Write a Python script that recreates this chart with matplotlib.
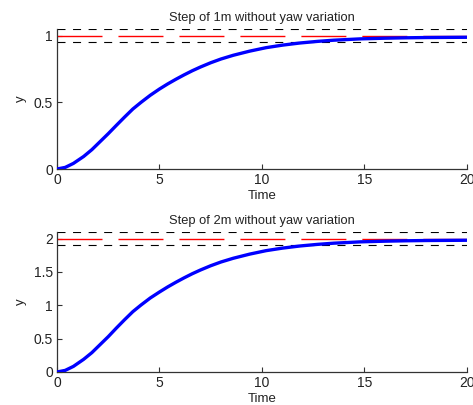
import numpy as np
import matplotlib.pyplot as plt

plt.rcParams['font.family'] = ['Liberation Sans', 'DejaVu Sans']

# step response
t = [0, 0.4, 0.8, 1.3, 1.7, 2.1, 2.5, 2.9, 3.3, 3.7, 4.1, 4.55, 5.0, 5.4, 5.8,
     6.2, 6.6, 7.0, 7.5, 8.0, 8.6, 9.4, 10.2, 11.0, 11.85, 12.7, 13.5, 14.8,
     16.0, 17.0, 18.0, 19.0, 20.0]
y1 = [0, 0.012, 0.042, 0.094, 0.145, 0.205, 0.265, 0.328, 0.39, 0.45, 0.5,
      0.553, 0.6, 0.638, 0.673, 0.706, 0.737, 0.765, 0.797, 0.825, 0.853, 0.884,
      0.91, 0.929, 0.945, 0.957, 0.966, 0.976, 0.981, 0.984, 0.986, 0.987, 0.988]
y2 = [0, 0.024, 0.084, 0.19, 0.29, 0.41, 0.53, 0.66, 0.785, 0.905, 1.005, 1.11,
      1.2, 1.276, 1.346, 1.412, 1.474, 1.53, 1.594, 1.65, 1.706, 1.768, 1.82,
      1.858, 1.89, 1.914, 1.932, 1.952, 1.962, 1.968, 1.972, 1.974, 1.976]

steps = [1, 2]
titles = ['Step of 1m without yaw variation', 'Step of 2m without yaw variation']
yticks = [[0, 0.5, 1], [0, 0.5, 1, 1.5, 2]]
series = [y1, y2]

fig = plt.figure(figsize=(4.73, 4.05), dpi=100)
positions = [[0.1205, 0.5827, 0.8668, 0.3457], [0.1205, 0.0815, 0.8668, 0.3457]]

for pos, ref, title, yt, y in zip(positions, steps, titles, yticks, series):
    ax = fig.add_axes(pos)
    ax.plot(t, y, color='#0000ff', lw=2.4, solid_capstyle='butt', zorder=3)
    ax.plot([0, 20], [ref, ref], color='red', lw=1, dashes=(32.4, 11.5), zorder=2)
    ax.plot([0, 20], [1.05 * ref, 1.05 * ref], color='black', lw=0.8,
            dashes=(7.2, 6.8), zorder=2)
    ax.plot([0, 20], [0.95 * ref, 0.95 * ref], color='black', lw=0.8,
            dashes=(7.2, 6.8), zorder=2)
    ax.set_xlim(0, 20)
    ax.set_ylim(0, 1.05 * ref)
    ax.set_xticks([0, 5, 10, 15, 20])
    ax.set_yticks(yt)
    ax.set_yticklabels([f'{v:g}' for v in yt])
    for s in ['top', 'right']:
        ax.spines[s].set_visible(False)
    for s in ['left', 'bottom']:
        ax.spines[s].set_color('#333333')
        ax.spines[s].set_linewidth(0.9)
    ax.tick_params(direction='in', length=3.6, width=0.8, color='#333333',
                   labelsize=10, pad=3, labelcolor='#222222')
    ax.set_title(title, fontsize=9.25, pad=6, color='#222222')
    ax.set_xlabel('Time', fontsize=9.5, labelpad=2, color='#222222')
    ax.set_ylabel('y', fontsize=9.5, labelpad=5, color='#222222')

fig.savefig('out.png', dpi=100)
